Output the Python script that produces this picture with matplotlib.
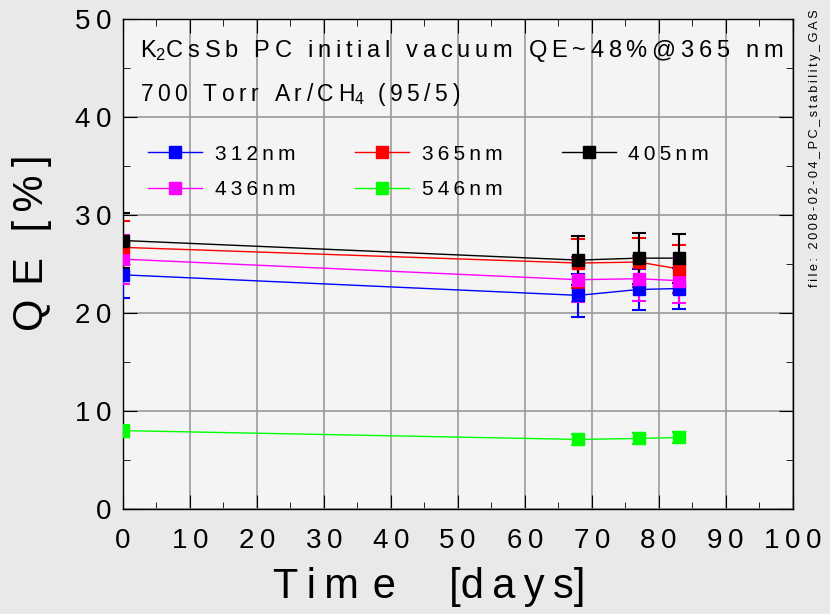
import matplotlib
matplotlib.use("Agg")
import matplotlib.pyplot as plt

plt.rcParams['font.family'] = ['Liberation Sans', 'DejaVu Sans']
plt.rcParams['mathtext.fontset'] = 'custom'
plt.rcParams['mathtext.rm'] = 'Liberation Sans'
plt.rcParams['mathtext.it'] = 'Liberation Sans'

# days since start
days = [0, 68, 77, 83]

# QE [%] per wavelength
qe_312 = [23.9, 21.8, 22.4, 22.5]
qe_365 = [26.7, 25.1, 25.2, 24.5]
qe_405 = [27.4, 25.4, 25.6, 25.6]
qe_436 = [25.5, 23.4, 23.5, 23.3]
qe_546 = [8.0, 7.1, 7.2, 7.3]

err_312 = [2.4, 2.2, 2.1, 2.1]
err_365 = [2.7, 2.5, 2.5, 2.45]
err_405 = [2.8, 2.5, 2.6, 2.5]
err_436 = [2.5, 2.3, 2.3, 2.3]
err_546 = [0.6, 0.6, 0.6, 0.6]

labels = ['312nm', '436nm', '365nm', '546nm', '405nm']
xticks = list(range(0, 101, 10))
yticks = list(range(0, 51, 10))

TS = '\u2009'   # thin space
MS = '\u2004'   # three-per-em space


def spaced(s, sep=TS):
    # ROOT-like wide letter spacing
    return sep.join(s)


fig = plt.figure(figsize=(8.3, 6.14), dpi=100, facecolor='#e9e9e9')
ax = fig.add_axes([0.148, 0.171, 0.807, 0.798])
ax.set_facecolor('#f4f4f4')

series = [
    (qe_312, err_312, '#0000ff', '312nm'),
    (qe_436, err_436, '#ff00ff', '436nm'),
    (qe_365, err_365, '#ff0000', '365nm'),
    (qe_405, err_405, '#000000', '405nm'),
    (qe_546, err_546, '#00ff00', '546nm'),
]
handles = {}
for qe, err, col, lab in series:
    ax.plot(days, qe, '-', color=col, lw=1.0, zorder=3)
    ax.errorbar(days, qe, yerr=err, fmt='none', ecolor=col, elinewidth=1.5,
                capsize=5, capthick=1.5, zorder=4)
    ax.plot(days, qe, 's', color=col, ms=8, zorder=5)
    h, = ax.plot([], [], '-s', color=col, lw=1.0, ms=8)
    handles[lab] = h

ax.set_xlim(0, 100)
ax.set_ylim(0, 50)
ax.set_xticks(xticks)
ax.set_yticks(yticks)
ax.set_xticks(range(5, 100, 10), minor=True)
ax.set_yticks(range(5, 50, 10), minor=True)
ax.set_xticklabels([spaced(str(t)) for t in xticks], fontsize=20)
ax.set_yticklabels([spaced(str(t)) for t in yticks], fontsize=20)
ax.tick_params(which='both', direction='in', top=True, right=True, color='black')
ax.tick_params(axis='x', which='major', length=10, pad=14)
ax.tick_params(axis='y', which='major', length=10, pad=8)
ax.tick_params(which='minor', length=5)
ax.grid(True, which='major', color='#9a9a9a', lw=1.2, zorder=1)
for sp in ax.spines.values():
    sp.set_linewidth(1.0)

ax.set_xlabel('T' + TS + 'i' + TS + 'm' + MS + 'e' + ' \u2003[' + spaced('days') + ']',
              fontsize=30)
ax.xaxis.set_label_coords(0.457, -0.118)
ax.set_ylabel('Q' + MS + 'E' + ' ' + MS + spaced('[%]'), fontsize=30)
ax.yaxis.set_label_coords(-0.106, 0.543)

ax.text(0.025, 0.935, 'K$_2$' + spaced('CsSb PC initial vacuum QE~48%@365 nm'),
        transform=ax.transAxes, fontsize=17, va='center', ha='left')
ax.text(0.025, 0.845, spaced('700 Torr Ar/CH') + r'$_4\ \ $' + spaced('(95/5)'),
        transform=ax.transAxes, fontsize=16.5, va='center', ha='left')

ax.legend([handles[l] for l in labels], [spaced(l) for l in labels], ncol=3,
          loc='upper left', bbox_to_anchor=(0.01, 0.782), frameon=False,
          fontsize=15, handlelength=2.6, handletextpad=0.6,
          columnspacing=2.85, labelspacing=0.78)

fig.text(0.982, 0.985, spaced('file: 2008-02-04_PC_stability_GAS'), rotation=90,
         fontsize=9.2, ha='center', va='top')

fig.savefig('out.png', dpi=100, facecolor=fig.get_facecolor())
